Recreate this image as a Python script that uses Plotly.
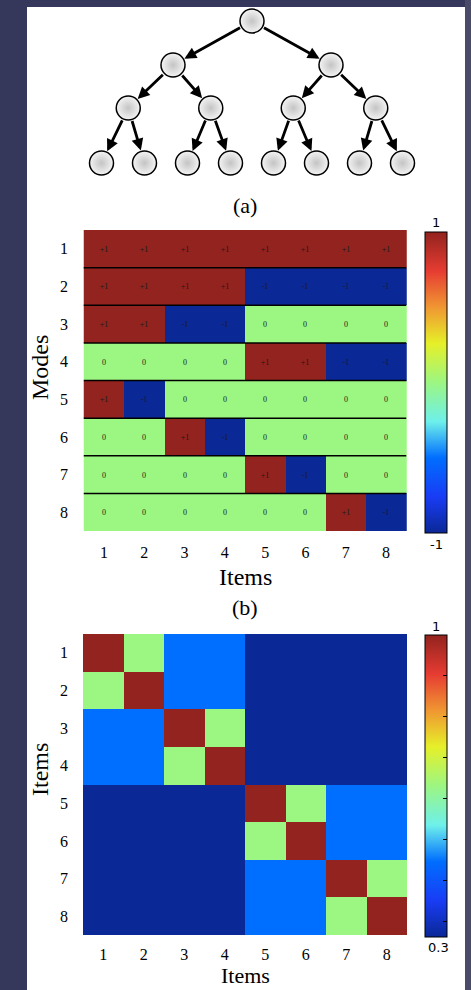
import plotly.graph_objects as go

# ---------------- data ----------------
items = [1, 2, 3, 4, 5, 6, 7, 8]
modes = [1, 2, 3, 4, 5, 6, 7, 8]
item_labels = ["1", "2", "3", "4", "5", "6", "7", "8"]

mode_values = [
    [1, 1, 1, 1, 1, 1, 1, 1],
    [1, 1, 1, 1, -1, -1, -1, -1],
    [1, 1, -1, -1, 0, 0, 0, 0],
    [0, 0, 0, 0, 1, 1, -1, -1],
    [1, -1, 0, 0, 0, 0, 0, 0],
    [0, 0, 1, -1, 0, 0, 0, 0],
    [0, 0, 0, 0, 1, -1, 0, 0],
    [0, 0, 0, 0, 0, 0, 1, -1],
]

item_similarity = [
    [1.00, 0.65, 0.475, 0.475, 0.30, 0.30, 0.30, 0.30],
    [0.65, 1.00, 0.475, 0.475, 0.30, 0.30, 0.30, 0.30],
    [0.475, 0.475, 1.00, 0.65, 0.30, 0.30, 0.30, 0.30],
    [0.475, 0.475, 0.65, 1.00, 0.30, 0.30, 0.30, 0.30],
    [0.30, 0.30, 0.30, 0.30, 1.00, 0.65, 0.475, 0.475],
    [0.30, 0.30, 0.30, 0.30, 0.65, 1.00, 0.475, 0.475],
    [0.30, 0.30, 0.30, 0.30, 0.475, 0.475, 1.00, 0.65],
    [0.30, 0.30, 0.30, 0.30, 0.475, 0.475, 0.65, 1.00],
]

tree_levels = [1, 2, 4, 8]          # nodes per level of the binary tree
sim_tick_values = [0.905, 0.81, 0.715, 0.62, 0.525, 0.43, 0.335]

# ---------------- style / layout ----------------
W, H = 471, 990
SERIF = "Liberation Serif, Times New Roman, serif"
SANS = "DejaVu Sans, Verdana, sans-serif"
PAGE_BG = "#35375b"

jet = [
    [0.00, "rgb(10,40,150)"],
    [0.12, "rgb(25,60,245)"],
    [0.25, "rgb(0,110,255)"],
    [0.37, "rgb(110,240,235)"],
    [0.50, "rgb(156,246,130)"],
    [0.63, "rgb(230,240,40)"],
    [0.75, "rgb(240,150,50)"],
    [0.87, "rgb(230,60,50)"],
    [1.00, "rgb(146,35,30)"],
]

def px(x):
    return x / W

def py(y):
    return 1 - y / H

tree_level_y = [21, 65, 108, 163]
tree_spacing = [0, 158, 82.5, 43]
tree_center = 252
node_radius = 12

# node positions from tree structure
nodes = []
for d, n in enumerate(tree_levels):
    row = []
    for i in range(n):
        row.append((tree_center + (i - (n - 1) / 2) * tree_spacing[d], tree_level_y[d]))
    nodes.append(row)

fig = go.Figure()

# tree nodes
tx = [p[0] for row in nodes for p in row]
ty = [p[1] for row in nodes for p in row]
fig.add_trace(go.Scatter(
    x=tx, y=ty, mode="markers", xaxis="x3", yaxis="y3", showlegend=False,
    hoverinfo="skip",
    marker=dict(size=2 * node_radius, color="#f4f4f4",
                gradient=dict(type="radial", color="#c4c4c4"),
                line=dict(color="black", width=1.5)),
))

annotations = []
for d in range(len(tree_levels) - 1):
    for i, (x0, y0) in enumerate(nodes[d]):
        for c in (2 * i, 2 * i + 1):
            x1, y1 = nodes[d + 1][c]
            annotations.append(dict(
                x=x1, y=y1, ax=x0, ay=y0, xref="x3", yref="y3", axref="x3", ayref="y3",
                text="", showarrow=True, arrowhead=2, arrowsize=0.85, arrowwidth=2.8,
                arrowcolor="black", standoff=node_radius + 1, startstandoff=node_radius,
            ))

# heatmap (b)
mode_text = [["+1" if v > 0 else ("-1" if v < 0 else "0") for v in row] for row in mode_values]
cb_b_top, cb_b_bot = 232, 533
fig.add_trace(go.Heatmap(
    z=mode_values, x=items, y=modes, xaxis="x", yaxis="y",
    colorscale=jet, zmin=-1, zmax=1, text=mode_text, texttemplate="%{text}",
    textfont=dict(family=SERIF, size=8, color="#1a1a1a"), hoverinfo="skip",
    colorbar=dict(x=px(425), xanchor="left", xref="paper", thickness=22, thicknessmode="pixels",
                  len=(cb_b_bot - cb_b_top) / H, lenmode="fraction",
                  y=py((cb_b_top + cb_b_bot) / 2), yanchor="middle", xpad=0, ypad=0,
                  outlinecolor="black", outlinewidth=1, ticks="", showticklabels=False),
))

# heatmap (c)
cb_c_top, cb_c_bot = 635, 937
fig.add_trace(go.Heatmap(
    z=item_similarity, x=items, y=items, xaxis="x2", yaxis="y2",
    colorscale=jet, zmin=0.3, zmax=1, hoverinfo="skip",
    colorbar=dict(x=px(425), xanchor="left", xref="paper", thickness=22, thicknessmode="pixels",
                  len=(cb_c_bot - cb_c_top) / H, lenmode="fraction",
                  y=py((cb_c_top + cb_c_bot) / 2), yanchor="middle", xpad=0, ypad=0,
                  outlinecolor="black", outlinewidth=1, ticks="inside", ticklen=4,
                  tickcolor="black", tickwidth=1, tickvals=sim_tick_values,
                  showticklabels=False),
))

shapes = [
    dict(type="rect", xref="paper", yref="paper", x0=px(27), x1=px(465), y0=0, y1=py(7),
         fillcolor="white", line=dict(width=0), layer="below"),
    dict(type="rect", xref="paper", yref="paper", x0=px(465), x1=1, y0=0, y1=1,
         fillcolor="#4a4a69", line=dict(width=0), layer="below"),
]
# row separators in (b)
for k in range(1, len(modes)):
    shapes.append(dict(type="line", xref="x", yref="y", x0=0.5, x1=8.5, y0=k + 0.5, y1=k + 0.5,
                       line=dict(color="black", width=1.5), layer="above"))
# left-edge tick marks on colorbar (c)
for v in sim_tick_values:
    yy = py(cb_c_bot) + (v - 0.3) / 0.7 * (cb_c_bot - cb_c_top) / H
    shapes.append(dict(type="line", xref="paper", yref="paper", x0=px(425), x1=px(429),
                       y0=yy, y1=yy, line=dict(color="black", width=1)))

def label(text, x, y, size, font=SERIF, angle=0, yanchor="middle"):
    return dict(text=text, x=px(x), y=py(y), xref="paper", yref="paper", showarrow=False,
                font=dict(family=font, size=size, color="black"), textangle=angle,
                xanchor="center", yanchor=yanchor)

annotations += [
    label("(a)", 245, 205, 22),
    label("Modes", 40, 368, 24, angle=-90),
    label("Items", 245, 577, 24),
    label("(b)", 245, 607, 22),
    label("1", 436, 222, 13, SANS),
    label("-1", 436, 544, 13, SANS),
    label("Items", 40, 770, 24, angle=-90),
    label("Items", 245, 990, 22, yanchor="bottom"),
    label("1", 436, 626, 13, SANS),
    label("0.3", 438, 947, 13, SANS),
]

axis_common = dict(showgrid=False, zeroline=False, showline=False, ticks="",
                   tickfont=dict(family=SERIF, size=16, color="black"),
                   tickvals=items, ticktext=item_labels)

fig.update_layout(
    width=W, height=H, margin=dict(l=0, r=0, t=0, b=0),
    paper_bgcolor=PAGE_BG, plot_bgcolor="rgba(0,0,0,0)",
    showlegend=False, shapes=shapes, annotations=annotations,
    xaxis=dict(domain=[px(83), px(407)], anchor="y", ticklabelstandoff=10, **axis_common),
    yaxis=dict(domain=[py(531), py(230)], anchor="x", autorange="reversed",
               ticklabelstandoff=14, **axis_common),
    xaxis2=dict(domain=[px(83), px(407)], anchor="y2", ticklabelstandoff=8, **axis_common),
    yaxis2=dict(domain=[py(935), py(634)], anchor="x2", autorange="reversed",
                ticklabelstandoff=14, **axis_common),
    xaxis3=dict(domain=[0, 1], range=[0, W], anchor="y3", visible=False),
    yaxis3=dict(domain=[0, 1], range=[H, 0], anchor="x3", visible=False),
)

fig.write_html(
    "out.html",
    config={"displayModeBar": False},
    post_script="document.body.style.margin='0';document.body.style.overflow='hidden';"
                "document.body.style.background='" + PAGE_BG + "';",
)
